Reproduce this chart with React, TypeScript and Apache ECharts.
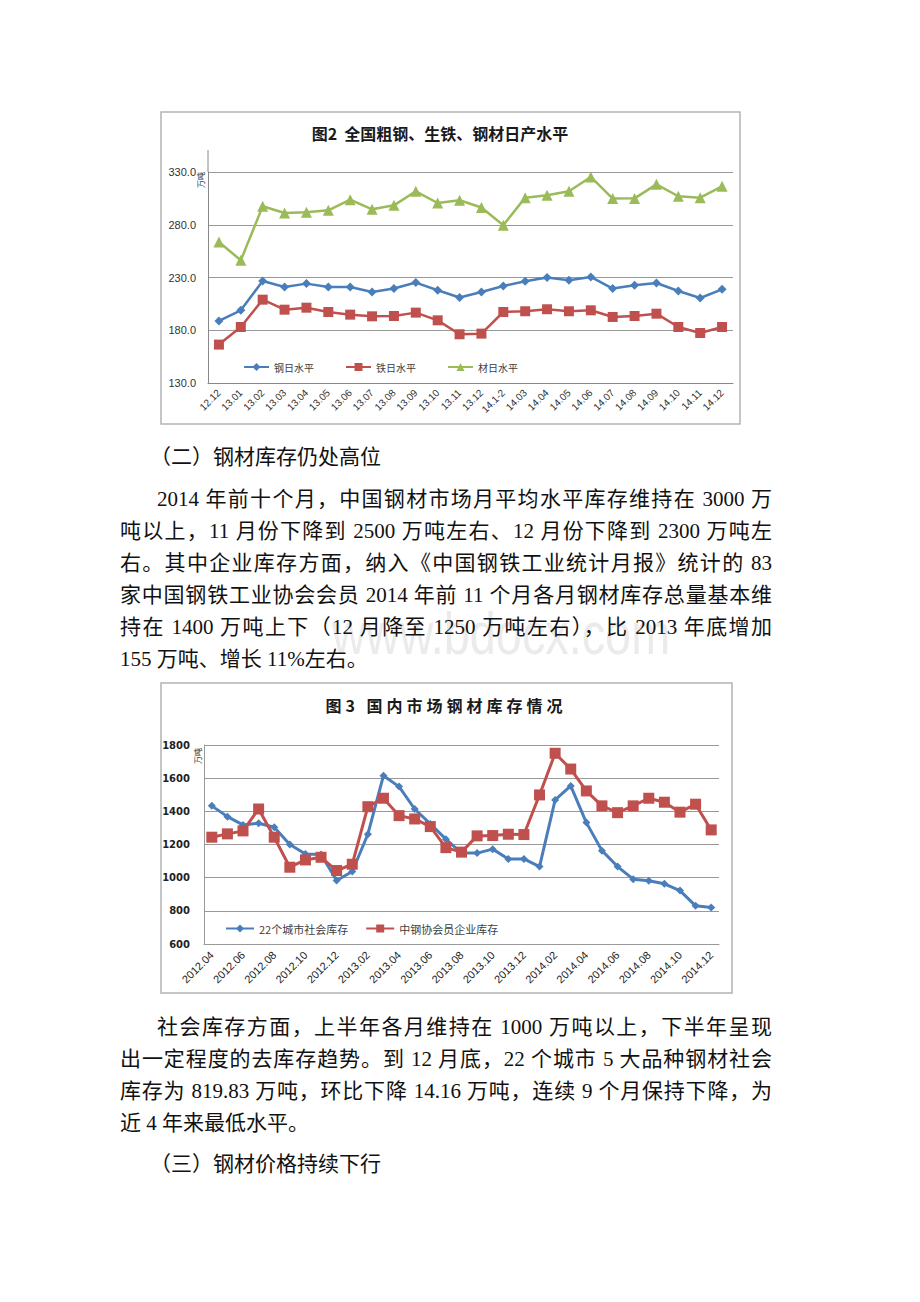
import React, { useEffect, useRef } from 'react';
import * as echarts from 'echarts';

// ---------- Chart 2 (图2) data ----------
const cats1 = ['12.12', '13.01', '13.02', '13.03', '13.04', '13.05', '13.06', '13.07', '13.08', '13.09', '13.10', '13.11', '13.12', '14.1-2', '14.03', '14.04', '14.05', '14.06', '14.07', '14.08', '14.09', '14.10', '14.11', '14.12'];
const steel1 = [188.8, 198.9, 226.7, 221.0, 224.2, 221.0, 221.0, 216.3, 219.5, 225.2, 217.9, 211.0, 216.3, 222.0, 226.4, 229.9, 227.3, 230.5, 219.5, 222.6, 224.8, 217.2, 210.6, 218.8];
const iron1 = [166.4, 183.1, 209.0, 199.5, 201.4, 197.3, 194.8, 193.2, 193.5, 196.7, 189.4, 176.2, 176.8, 197.3, 198.0, 199.9, 198.0, 198.9, 192.6, 193.5, 195.7, 183.1, 177.4, 183.1];
const product1 = [263.6, 246.3, 297.5, 291.1, 291.8, 293.7, 303.8, 294.6, 298.4, 311.7, 300.6, 303.2, 296.3, 279.5, 305.7, 307.9, 311.7, 325.3, 304.8, 305.0, 318.3, 307.0, 305.7, 316.4];
const seriesNames1 = ['钢日水平', '铁日水平', '材日水平'];
const title1 = '图2  全国粗钢、生铁、钢材日产水平';

// ---------- Chart 3 (图3) data ----------
const months2 = [
  '2012.04', '2012.05', '2012.06', '2012.07', '2012.08', '2012.09', '2012.10', '2012.11', '2012.12',
  '2013.01', '2013.02', '2013.03', '2013.04', '2013.05', '2013.06', '2013.07', '2013.08', '2013.09', '2013.10', '2013.11', '2013.12',
  '2014.01', '2014.02', '2014.03', '2014.04', '2014.05', '2014.06', '2014.07', '2014.08', '2014.09', '2014.10', '2014.11', '2014.12'];
const social2 = [1433, 1368, 1318, 1328, 1304, 1200, 1143, 1140, 983,
  1037, 1262, 1615, 1549, 1414, 1324, 1232, 1148, 1148, 1172, 1113, 1113,
  1067, 1469, 1553, 1332, 1163, 1067, 991, 981, 963, 922, 830, 820];
const member2 = [1244, 1264, 1282, 1414, 1244, 1063, 1107, 1123, 1043,
  1081, 1428, 1479, 1374, 1354, 1308, 1181, 1154, 1252, 1254, 1262, 1260,
  1499, 1750, 1655, 1523, 1433, 1392, 1433, 1479, 1455, 1395, 1443, 1288];
const seriesNames2 = ['22个城市社会库存', '中钢协会员企业库存'];
const title2 = '图3  国内市场钢材库存情况';
const unitLabel = '万吨';

// ---------- Text ----------
const heading2 = '（二）钢材库存仍处高位';
const para1Lines = [
  '2014 年前十个月，中国钢材市场月平均水平库存维持在 3000 万',
  '吨以上，11 月份下降到 2500 万吨左右、12 月份下降到 2300 万吨左',
  '右。其中企业库存方面，纳入《中国钢铁工业统计月报》统计的 83',
  '家中国钢铁工业协会会员 2014 年前 11 个月各月钢材库存总量基本维',
  '持在 1400 万吨上下（12 月降至 1250 万吨左右），比 2013 年底增加',
  '155 万吨、增长 11%左右。',
];
const para2Lines = [
  '社会库存方面，上半年各月维持在 1000 万吨以上，下半年呈现',
  '出一定程度的去库存趋势。到 12 月底，22 个城市 5 大品种钢材社会',
  '库存为 819.83 万吨，环比下降 14.16 万吨，连续 9 个月保持下降，为',
  '近 4 年来最低水平。',
];
const heading3 = '（三）钢材价格持续下行';
const watermark = 'www.bdocx.com';

const BLUE = '#4A7EBB';
const RED = '#C0504D';
const GREEN = '#9BBB59';
const CJK = '"Noto Sans CJK SC", "Liberation Sans", sans-serif';
const BODY_FONT = '"Liberation Serif", "Noto Sans CJK SC", serif';

function Chart1() {
  const ref = useRef<HTMLDivElement>(null);
  useEffect(() => {
    const chart = echarts.init(ref.current!, null, { renderer: 'svg' });
    chart.setOption({
      animation: false,
      graphic: [
        { type: 'rect', shape: { x: 11, y: 12, width: 579, height: 312 }, style: { fill: 'none', stroke: '#b3b3b3', lineWidth: 1.5 }, silent: true },
        { type: 'text', x: 290, y: 33, style: { text: title1, font: `bold 16px ${CJK}`, fill: '#1a1a1a', align: 'center', verticalAlign: 'middle' } },
        { type: 'text', x: 50, y: 80, rotation: Math.PI / 2, style: { text: unitLabel, font: `8px ${CJK}`, fill: '#333', align: 'center', verticalAlign: 'middle' } },
        { type: 'line', shape: { x1: 58, y1: 50, x2: 58, y2: 72 }, style: { stroke: '#888', lineWidth: 1 } },
      ],
      legend: {
        left: 88, top: 257, itemWidth: 25, itemHeight: 10, itemGap: 31,
        data: seriesNames1,
        textStyle: { fontSize: 10, color: '#404040', fontFamily: CJK },
      },
      grid: { left: 58, right: 17, top: 72, bottom: 57 },
      xAxis: {
        type: 'category', data: cats1, boundaryGap: true,
        axisLine: { lineStyle: { color: '#888' } },
        axisTick: { show: false },
        axisLabel: { rotate: 45, fontSize: 10, color: '#333', margin: 8, interval: 0, fontFamily: '"Liberation Sans", sans-serif' },
      },
      yAxis: {
        type: 'value', min: 130, max: 330, interval: 50,
        axisLine: { show: true, lineStyle: { color: '#888' } },
        axisTick: { show: false },
        splitLine: { lineStyle: { color: '#999' } },
        axisLabel: { formatter: (v: number) => v.toFixed(1), fontSize: 11, color: '#333', margin: 12, fontFamily: '"Liberation Sans", sans-serif' },
      },
      series: [
        { name: seriesNames1[0], type: 'line', data: steel1, showAllSymbol: true, symbol: 'diamond', symbolSize: 9, lineStyle: { width: 2.5, color: BLUE }, itemStyle: { color: BLUE } },
        { name: seriesNames1[1], type: 'line', data: iron1, showAllSymbol: true, symbol: 'rect', symbolSize: 10, lineStyle: { width: 2.5, color: RED }, itemStyle: { color: RED } },
        { name: seriesNames1[2], type: 'line', data: product1, showAllSymbol: true, symbol: 'triangle', symbolSize: 11, lineStyle: { width: 2.5, color: GREEN }, itemStyle: { color: GREEN } },
      ],
    });
    return () => chart.dispose();
  }, []);
  return <div ref={ref} style={{ position: 'absolute', left: 150, top: 100, width: 600, height: 340 }} />;
}

function Chart2() {
  const ref = useRef<HTMLDivElement>(null);
  useEffect(() => {
    const chart = echarts.init(ref.current!, null, { renderer: 'svg' });
    chart.setOption({
      animation: false,
      graphic: [
        { type: 'rect', shape: { x: 11, y: 13, width: 571, height: 310 }, style: { fill: 'none', stroke: '#b3b3b3', lineWidth: 1.5 }, silent: true },
        { type: 'text', x: 47, y: 86, rotation: Math.PI / 2, style: { text: unitLabel, font: `8px ${CJK}`, fill: '#333', align: 'center', verticalAlign: 'middle' } },
      ],
      legend: {
        left: 70, top: 248, itemWidth: 28, itemHeight: 10, itemGap: 17,
        data: seriesNames2,
        textStyle: { fontSize: 11, color: '#404040', fontFamily: CJK },
      },
      grid: { left: 54, right: 31, top: 75, bottom: 66 },
      xAxis: {
        type: 'category', data: months2, boundaryGap: true,
        axisLine: { lineStyle: { color: '#999' } },
        axisTick: { show: false },
        axisLabel: { rotate: 45, fontSize: 11, color: '#222', margin: 9, interval: 1, fontFamily: '"Liberation Sans", sans-serif' },
      },
      yAxis: {
        type: 'value', min: 600, max: 1800, interval: 200,
        axisLine: { show: true, lineStyle: { color: '#999' } },
        axisTick: { show: false },
        splitLine: { lineStyle: { color: '#999' } },
        axisLabel: { formatter: (v: number) => String(v), fontSize: 10, fontWeight: 'bold', color: '#222', margin: 14, fontFamily: '"DejaVu Sans", sans-serif' },
      },
      series: [
        { name: seriesNames2[0], type: 'line', data: social2, showAllSymbol: true, symbol: 'diamond', symbolSize: 8, lineStyle: { width: 3, color: BLUE }, itemStyle: { color: BLUE } },
        { name: seriesNames2[1], type: 'line', data: member2, showAllSymbol: true, symbol: 'rect', symbolSize: 11, lineStyle: { width: 3, color: RED }, itemStyle: { color: RED } },
      ],
    });
    return () => chart.dispose();
  }, []);
  return <div ref={ref} style={{ position: 'absolute', left: 150, top: 670, width: 600, height: 340 }} />;
}

const LINE_H = 32;

function Line({ text, left, right, cy, justify }: { text: string; left: number; right: number; cy: number; justify: boolean }) {
  return (
    <div
      style={{
        position: 'absolute', left, top: cy - LINE_H / 2, width: right - left, height: LINE_H,
        lineHeight: `${LINE_H}px`, fontSize: 21, fontFamily: BODY_FONT, color: '#111',
        textAlign: justify ? 'justify' : 'left', textAlignLast: justify ? 'justify' : 'left',
        whiteSpace: 'nowrap', overflow: 'visible', zIndex: 2,
      } as React.CSSProperties}
    >
      {text}
    </div>
  );
}

export default function App() {
  const p1Y = [499, 531, 563, 595, 627, 659];
  const p2Y = [1027, 1059, 1091, 1123];
  return (
    <div style={{ position: 'absolute', left: 0, top: 0, width: 920, height: 1302, background: '#fff', overflow: 'hidden' }}>
      <div style={{ position: 'absolute', left: 332, top: 602, fontSize: 60, lineHeight: '64px', fontFamily: '"Liberation Sans", sans-serif', color: '#ebebeb', zIndex: 1, whiteSpace: 'nowrap', transform: 'scaleX(0.78)', transformOrigin: '0 0' }}>
        {watermark}
      </div>
      <Chart1 />
      <Chart2 />
      <div style={{ position: 'absolute', left: 296, top: 693, width: 300, textAlign: 'center', fontSize: 16, fontWeight: 'bold', fontFamily: CJK, letterSpacing: '4px', color: '#1a1a1a', lineHeight: '24px', whiteSpace: 'nowrap', zIndex: 3 }}>
        {title2}
      </div>
      <Line text={heading2} left={150} right={420} cy={457} justify={false} />
      {para1Lines.map((t, i) => (
        <Line key={'p1' + i} text={t} left={i === 0 ? 157 : 120} right={772} cy={p1Y[i]} justify={i < para1Lines.length - 1} />
      ))}
      {para2Lines.map((t, i) => (
        <Line key={'p2' + i} text={t} left={i === 0 ? 157 : 120} right={772} cy={p2Y[i]} justify={i < para2Lines.length - 1} />
      ))}
      <Line text={heading3} left={150} right={420} cy={1164} justify={false} />
    </div>
  );
}
